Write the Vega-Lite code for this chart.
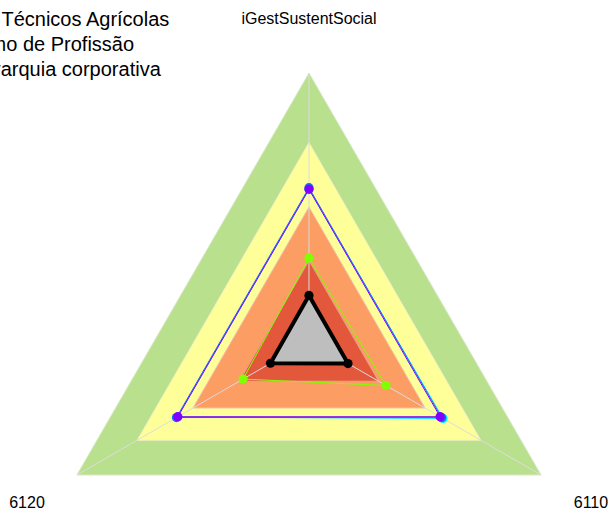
{
  "$schema": "https://vega.github.io/schema/vega-lite/v6.json",
  "width": 611,
  "height": 514,
  "autosize": {"type": "none"},
  "padding": 0,
  "background": "white",
  "config": {"view": {"stroke": null}},
  "title": {
    "text": ["dos Técnicos Agrícolas", "Ramo de Profissão", "Hierarquia corporativa"],
    "anchor": "start",
    "frame": "group",
    "font": "Liberation Sans",
    "fontSize": 20,
    "fontWeight": "normal",
    "color": "black",
    "lineHeight": 25,
    "baseline": "top",
    "offset": 0,
    "dx": -36,
    "dy": 80
  },
  "datasets": {
    "bands": [
      {"band": "b1", "axis": "iGestSustentSocial", "value": 1.0},
      {"band": "b1", "axis": "6120", "value": 1.0},
      {"band": "b1", "axis": "6110", "value": 1.0},
      {"band": "b2", "axis": "iGestSustentSocial", "value": 0.74},
      {"band": "b2", "axis": "6120", "value": 0.74},
      {"band": "b2", "axis": "6110", "value": 0.74},
      {"band": "b3", "axis": "iGestSustentSocial", "value": 0.5},
      {"band": "b3", "axis": "6120", "value": 0.5},
      {"band": "b3", "axis": "6110", "value": 0.5},
      {"band": "b4", "axis": "iGestSustentSocial", "value": 0.3},
      {"band": "b4", "axis": "6120", "value": 0.3},
      {"band": "b4", "axis": "6110", "value": 0.3}
    ],
    "axes": [
      {"axis": "iGestSustentSocial"},
      {"axis": "6120"},
      {"axis": "6110"}
    ],
    "series": [
      {"serie": "a_verde", "axis": "iGestSustentSocial", "value": 0.31},
      {"serie": "a_verde", "axis": "6120", "value": 0.284},
      {"serie": "a_verde", "axis": "6110", "value": 0.332},
      {"serie": "b_ciano", "axis": "iGestSustentSocial", "value": 0.567},
      {"serie": "b_ciano", "axis": "6120", "value": 0.567},
      {"serie": "b_ciano", "axis": "6110", "value": 0.578},
      {"serie": "c_azul", "axis": "iGestSustentSocial", "value": 0.572},
      {"serie": "c_azul", "axis": "6120", "value": 0.571},
      {"serie": "c_azul", "axis": "6110", "value": 0.572},
      {"serie": "d_roxo", "axis": "iGestSustentSocial", "value": 0.566},
      {"serie": "d_roxo", "axis": "6120", "value": 0.565},
      {"serie": "d_roxo", "axis": "6110", "value": 0.565},
      {"serie": "e_preto", "axis": "iGestSustentSocial", "value": 0.17},
      {"serie": "e_preto", "axis": "6120", "value": 0.166},
      {"serie": "e_preto", "axis": "6110", "value": 0.168}
    ]
  },
  "encoding": {
    "x": {"field": "x", "type": "quantitative", "scale": {"domain": [-1.153, 1.127], "nice": false, "zero": false}, "axis": null},
    "y": {"field": "y", "type": "quantitative", "scale": {"domain": [-0.6455, 1.2724], "nice": false, "zero": false}, "axis": null}
  },
  "layer": [
    {
      "data": {"name": "bands"},
      "transform": [
        {"filter": "datum.band == 'b1'"},
        {"calculate": "indexof(['iGestSustentSocial','6120','6110'], datum.axis)", "as": "idx"},
        {"calculate": "-datum.value * sin(datum.idx * 2 * PI / 3)", "as": "x"},
        {"calculate": "datum.value * cos(datum.idx * 2 * PI / 3)", "as": "y"}
      ],
      "mark": {"type": "line", "interpolate": "linear-closed", "fill": "#B9E08D", "stroke": "#D8E8C8", "strokeWidth": 1},
      "encoding": {"order": {"field": "idx", "type": "quantitative"}}
    },
    {
      "data": {"name": "bands"},
      "transform": [
        {"filter": "datum.band == 'b2'"},
        {"calculate": "indexof(['iGestSustentSocial','6120','6110'], datum.axis)", "as": "idx"},
        {"calculate": "-datum.value * sin(datum.idx * 2 * PI / 3)", "as": "x"},
        {"calculate": "datum.value * cos(datum.idx * 2 * PI / 3)", "as": "y"}
      ],
      "mark": {"type": "line", "interpolate": "linear-closed", "fill": "#FFFF99", "stroke": "#F4F0C0", "strokeWidth": 1},
      "encoding": {"order": {"field": "idx", "type": "quantitative"}}
    },
    {
      "data": {"name": "bands"},
      "transform": [
        {"filter": "datum.band == 'b3'"},
        {"calculate": "indexof(['iGestSustentSocial','6120','6110'], datum.axis)", "as": "idx"},
        {"calculate": "-datum.value * sin(datum.idx * 2 * PI / 3)", "as": "x"},
        {"calculate": "datum.value * cos(datum.idx * 2 * PI / 3)", "as": "y"}
      ],
      "mark": {"type": "line", "interpolate": "linear-closed", "fill": "#FC9D63", "stroke": "#F0C0B0", "strokeWidth": 1},
      "encoding": {"order": {"field": "idx", "type": "quantitative"}}
    },
    {
      "data": {"name": "bands"},
      "transform": [
        {"filter": "datum.band == 'b4'"},
        {"calculate": "indexof(['iGestSustentSocial','6120','6110'], datum.axis)", "as": "idx"},
        {"calculate": "-datum.value * sin(datum.idx * 2 * PI / 3)", "as": "x"},
        {"calculate": "datum.value * cos(datum.idx * 2 * PI / 3)", "as": "y"}
      ],
      "mark": {"type": "line", "interpolate": "linear-closed", "fill": "#E3573A", "stroke": "#E8A090", "strokeWidth": 1},
      "encoding": {"order": {"field": "idx", "type": "quantitative"}}
    },
    {
      "data": {"name": "axes"},
      "transform": [
        {"calculate": "indexof(['iGestSustentSocial','6120','6110'], datum.axis)", "as": "idx"},
        {"calculate": "-sin(datum.idx * 2 * PI / 3)", "as": "x"},
        {"calculate": "cos(datum.idx * 2 * PI / 3)", "as": "y"}
      ],
      "mark": {"type": "rule", "color": "#DCDCDC", "strokeWidth": 1},
      "encoding": {"x2": {"datum": 0}, "y2": {"datum": 0}}
    },
    {
      "data": {"name": "series"},
      "transform": [
        {"filter": "datum.serie != 'e_preto'"},
        {"calculate": "indexof(['iGestSustentSocial','6120','6110'], datum.axis)", "as": "idx"},
        {"calculate": "-datum.value * sin(datum.idx * 2 * PI / 3)", "as": "x"},
        {"calculate": "datum.value * cos(datum.idx * 2 * PI / 3)", "as": "y"}
      ],
      "mark": {"type": "line", "interpolate": "linear-closed", "strokeWidth": 1},
      "encoding": {
        "color": {"field": "serie", "type": "nominal", "scale": {"domain": ["a_verde", "b_ciano", "c_azul", "d_roxo", "e_preto"], "range": ["#80FF00", "#00FFFF", "#2060FF", "#8000FF", "#000000"]}, "legend": null},
        "order": {"field": "idx", "type": "quantitative"}
      }
    },
    {
      "data": {"name": "series"},
      "transform": [
        {"filter": "datum.serie == 'e_preto'"},
        {"calculate": "indexof(['iGestSustentSocial','6120','6110'], datum.axis)", "as": "idx"},
        {"calculate": "-datum.value * sin(datum.idx * 2 * PI / 3)", "as": "x"},
        {"calculate": "datum.value * cos(datum.idx * 2 * PI / 3)", "as": "y"}
      ],
      "mark": {"type": "line", "interpolate": "linear-closed", "fill": "#BEBEBE", "stroke": "black", "strokeWidth": 4, "strokeJoin": "round"},
      "encoding": {"order": {"field": "idx", "type": "quantitative"}}
    },
    {
      "data": {"name": "series"},
      "transform": [
        {"calculate": "indexof(['iGestSustentSocial','6120','6110'], datum.axis)", "as": "idx"},
        {"calculate": "-datum.value * sin(datum.idx * 2 * PI / 3)", "as": "x"},
        {"calculate": "datum.value * cos(datum.idx * 2 * PI / 3)", "as": "y"}
      ],
      "mark": {"type": "point", "filled": true, "opacity": 1, "size": 85, "shape": "circle"},
      "encoding": {
        "color": {"field": "serie", "type": "nominal", "scale": {"domain": ["a_verde", "b_ciano", "c_azul", "d_roxo", "e_preto"], "range": ["#80FF00", "#00FFFF", "#2060FF", "#8000FF", "#000000"]}, "legend": null}
      }
    },
    {
      "data": {"name": "axes"},
      "transform": [
        {"calculate": "indexof(['iGestSustentSocial','6120','6110'], datum.axis)", "as": "idx"},
        {"calculate": "-1.215 * sin(datum.idx * 2 * PI / 3)", "as": "x"},
        {"calculate": "1.2 * cos(datum.idx * 2 * PI / 3) + (datum.idx == 0 ? 0 : -0.005)", "as": "y"}
      ],
      "mark": {"type": "text", "font": "Liberation Sans", "fontSize": 16, "color": "black", "align": "center", "baseline": "middle"},
      "encoding": {"text": {"field": "axis", "type": "nominal"}}
    }
  ]
}
